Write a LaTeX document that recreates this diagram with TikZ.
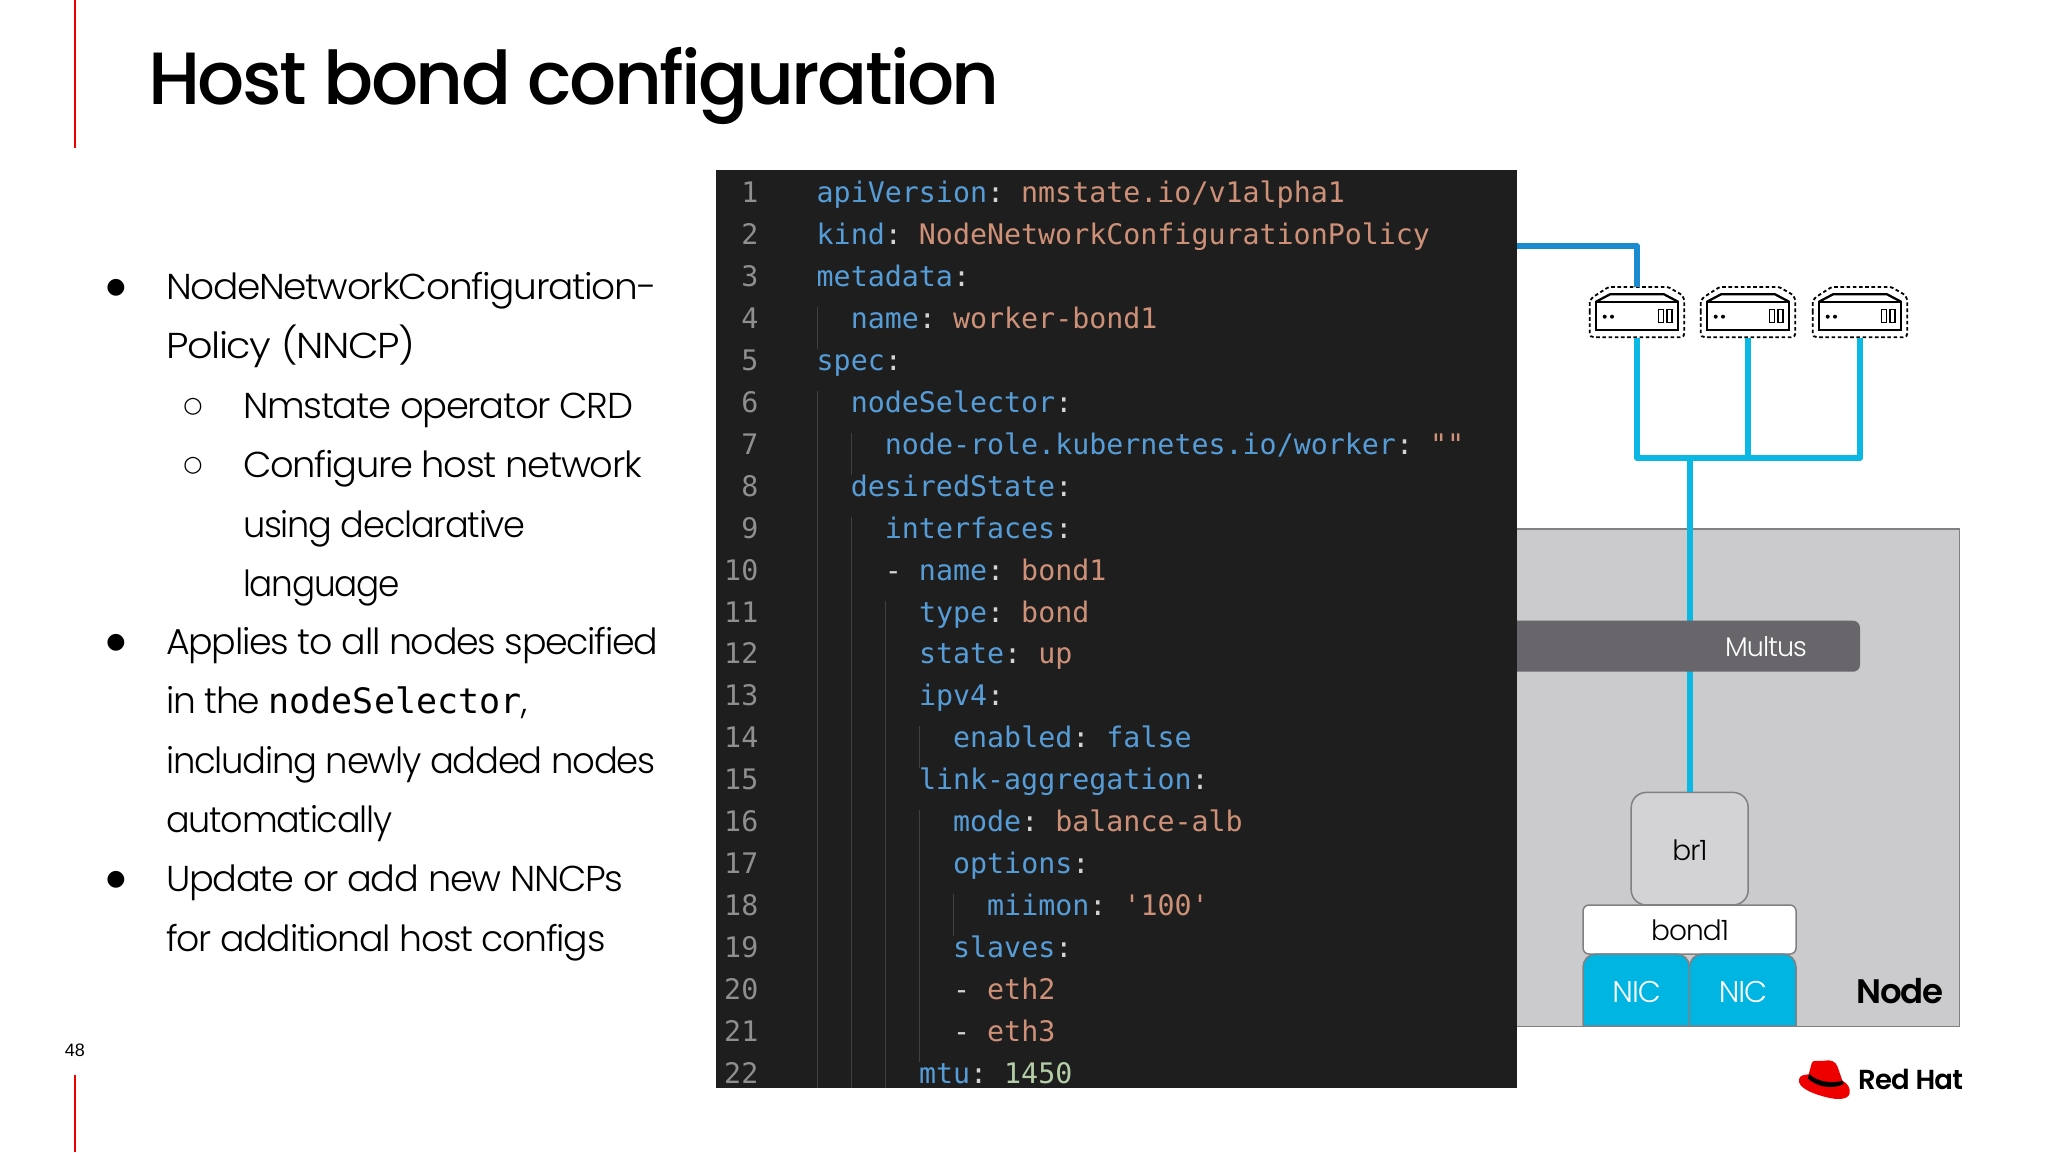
\documentclass[tikz,border=0pt]{standalone}
\usepackage{graphicx}
\usepackage{fontspec}
\setmainfont{Lato}
\newfontfamily\titlefont[LetterSpace=-3.5,Ligatures=NoCommon]{Poppins Medium}
\newfontfamily\bodyfont[LetterSpace=-3.5,Ligatures=NoCommon]{Poppins Light}
\newfontfamily\boldfont[LetterSpace=-3,Ligatures=NoCommon]{Poppins SemiBold}
\newfontfamily\codefont{DejaVu Sans Mono}
\newfontfamily\arialfont{Liberation Sans}
\newfontfamily\dvfont{DejaVu Sans}
\definecolor{rhred}{HTML}{EE0000}
\definecolor{panel}{HTML}{1E1E1F}
\definecolor{keyc}{HTML}{569CD6}
\definecolor{strc}{HTML}{CE9178}
\definecolor{numc}{HTML}{B5CEA8}
\definecolor{punc}{HTML}{D4D4D4}
\definecolor{lnc}{HTML}{8F8F8F}
\definecolor{guide}{HTML}{404040}
\definecolor{nodebg}{HTML}{CBCACD}
\definecolor{nodeln}{HTML}{808083}
\definecolor{brbg}{HTML}{D3D3D5}
\definecolor{cyanln}{HTML}{0BB7E3}
\definecolor{cyannic}{HTML}{00B5E2}
\definecolor{upln}{HTML}{1A8BCF}
\definecolor{multus}{HTML}{68666A}
\newcommand{\ky}[1]{\textcolor{keyc}{#1}}
\newcommand{\st}[1]{\textcolor{strc}{#1}}
\newcommand{\nm}[1]{\textcolor{numc}{#1}}
\newcommand{\pn}[1]{\textcolor{punc}{#1}}
\newcommand{\cl}[3]{%
  \node[lnum] (n#1) at (758.5,{202.5+(#1-1)*41.95}) {#1};
  \node[codetext] (c#1) at ({816.5+#2*17.05},{202.5+(#1-1)*41.95}) {#3};}
\newcommand{\bl}[5]{\node[bodytext] (#1) at (#2,#3) {\scalebox{#4}[1]{#5}};}
\newcommand{\gd}[3]{\draw[guideln] (#1,{181+(#2-1)*41.95}) -- (#1,{min(1088,181+#3*41.95)});}
\newcommand{\server}[2]{%
  \node[srvbox] (#1) at (#2,312) {};
  \begin{scope}[shift={(#2,0)}]
    \draw[srvdash] (-47.3,312) -- (-47.3,301) -- (-44,297) -- (-30,288) -- (-27,287) -- (30,287) -- (33,288) -- (45,295) -- (47.3,300) -- (47.3,332) .. controls (47.3,336) and (46,337.3) .. (43,337.3) -- (-43,337.3) .. controls (-46,337.3) and (-47.3,336) .. (-47.3,332) -- cycle;
    \draw[srvln] (-41,301.7) rectangle (41,330);
    \draw[srvln] (-41,301.7) -- (-27,294.3) -- (27,294.3) -- (41,301.7);
    \fill (-32.3,316.7) circle (2);
    \fill (-25,316.7) circle (2);
    \draw[srvthin] (21.7,309.3) rectangle (26.7,322.7);
    \draw[srvthin] (30,309.3) rectangle (35,322.7);
  \end{scope}}
\tikzset{
  x=1pt,y=-1pt,
  lnum/.style={anchor=base east,inner sep=0pt,text=lnc,font=\codefont\frenchspacing\fontsize{28.3}{34}\selectfont},
  codetext/.style={anchor=base west,inner sep=0pt,font=\codefont\frenchspacing\fontsize{28.3}{34}\selectfont},
  bodytext/.style={anchor=base west,inner sep=0pt,text=black,font=\bodyfont\fontsize{36}{46}\selectfont},
  bulleta/.style={anchor=center,inner sep=0pt,text=black,font=\dvfont\fontsize{22}{26}\selectfont},
  guideln/.style={draw=guide,line width=1.3pt},
  redrule/.style={draw=rhred,line width=2pt},
  srvbox/.style={minimum width=94.6pt,minimum height=50.6pt,inner sep=0pt},
  srvln/.style={draw=black,line width=2.3pt},
  srvthin/.style={draw=black,line width=1.5pt},
  srvdash/.style={draw=black,line width=1.8pt,dash pattern=on 3.6pt off 2.6pt},
  cyanwire/.style={draw=cyanln,line width=5.2pt,line join=round},
  upwire/.style={draw=upln,line width=5.2pt,line join=round},
  boxlabel/.style={font=\bodyfont\fontsize{28}{34}\selectfont,text=black,inner sep=0pt},
  niclabel/.style={font=\bodyfont\fontsize{30}{34}\selectfont,text=white,inner sep=0pt},
  nodeframe/.style={draw=nodeln,fill=nodebg,line width=1.5pt},
  partframe/.style={draw=nodeln,line width=1.5pt},
}
\begin{document}
\begin{tikzpicture}
\useasboundingbox (0,0) rectangle (2048,1152);
\fill[white] (0,0) rectangle (2048,1152);
% page furniture
\coordinate (rt0) at (75,0);\coordinate (rt1) at (75,148);
\coordinate (rb0) at (75,1075);\coordinate (rb1) at (75,1152);
\draw[redrule] (rt0) -- (rt1);
\draw[redrule] (rb0) -- (rb1);
\node[inner sep=0pt,font=\arialfont\fontsize{18}{22}\selectfont] (pageno) at (75,1050) {48};
\node[anchor=base west,inner sep=0pt,font=\titlefont\fontsize{74}{84}\selectfont] (title) at (148,104) {Host bond configuration};
% bullets
\node[bulleta] (b1) at (116,288) {●};
\bl{t1}{166}{299.5}{1.042}{NodeNetworkConfiguration-}
\bl{t2}{166}{358.5}{1.105}{Policy (NNCP)}
\node[bulleta] (b2) at (193,407) {○};
\bl{t3}{243}{418.5}{1.024}{Nmstate operator CRD}
\node[bulleta] (b3) at (193,466) {○};
\bl{t4}{243}{477.5}{1.023}{Configure host network}
\bl{t5}{243}{537.5}{0.977}{using declarative}
\bl{t6}{243}{596.5}{0.952}{language}
\node[bulleta] (b4) at (116,643) {●};
\bl{t7}{166}{654.5}{1.011}{Applies to all nodes specified}
\bl{t8}{166}{713.5}{1}{in the {\codefont\fontsize{35}{40}\selectfont nodeSelector},}
\bl{t9}{166}{773.5}{0.984}{including newly added nodes}
\bl{t10}{166}{832.5}{0.972}{automatically}
\node[bulleta] (b5) at (116,880) {●};
\bl{t11}{166}{891.5}{1.02}{Update or add new NNCPs}
\bl{t12}{166}{951.5}{1.006}{for additional host configs}
% node box
\node[nodeframe,minimum width=520.5pt,minimum height=497.3pt,inner sep=0pt,anchor=north west] (nodebox) at (1438,528.2) {};
% wires
\coordinate (jun) at (1690,458);
\coordinate (junA) at (1637,458);
\coordinate (junB) at (1748,458);
\coordinate (junC) at (1860,458);
\server{srvA}{1637}
\server{srvB}{1748}
\server{srvC}{1860}
\draw[cyanwire] (srvA.south) -- (junA) -- (junC) -- (srvC.south);
\draw[cyanwire] (srvB.south) -- (junB);
\node[draw=nodeln,fill=brbg,line width=1.5pt,rounded corners=15pt,minimum width=117pt,minimum height=112.5pt,inner sep=0pt] (br) at (1689.7,848.7) {};
\draw[cyanwire] (jun) -- (jun|-br.north);
% multus bar
\coordinate (mleft) at (1500,620.7);
\fill[multus,rounded corners=7pt] (mleft) rectangle (1860,671.7);
\node[boxlabel,text=white,font=\bodyfont\fontsize{27}{32}\selectfont] (multuslbl) at (1766,647) {Multus};
% stack
\node[boxlabel] (brlbl) at (1690,850.7) {br1};
\node[draw=nodeln,fill=white,line width=1.5pt,rounded corners=6pt,minimum width=213pt,minimum height=49pt,inner sep=0pt] (bond) at (1689.5,929.5) {};
\node[boxlabel] (bondlbl) at (1690,930.7) {bond1};
\filldraw[partframe,fill=cyannic] (1583,1026) [rounded corners=13pt] -- (1583,954) -- (1689.5,954) [sharp corners] -- (1689.5,1026) -- cycle;
\filldraw[partframe,fill=cyannic] (1689.5,1026) [rounded corners=13pt] -- (1689.5,954) -- (1796,954) [sharp corners] -- (1796,1026) -- cycle;
\node[niclabel] (nic1) at (1636.7,991.7) {NIC};
\node[niclabel] (nic2) at (1743,991.7) {NIC};
\node[inner sep=0pt,font=\boldfont\fontsize{34}{38}\selectfont] (nodelbl) at (1900,991) {Node};
% code panel
\node[fill=panel,minimum width=801pt,minimum height=918pt,inner sep=0pt,anchor=north west] (code) at (716,170) {};
\coordinate (upstart) at (1517,246);
\draw[upwire] (upstart) -| (srvA.north);
\gd{817.5}{4}{4}
\gd{817.5}{6}{23}
\gd{851.5}{7}{7}
\gd{851.5}{9}{23}
\gd{885.5}{11}{23}
\gd{919.5}{14}{14}
\gd{919.5}{16}{21}
\gd{953.5}{18}{18}
\cl{1}{0}{\ky{apiVersion}\pn{:} \st{nmstate.io/v1alpha1}}
\cl{2}{0}{\ky{kind}\pn{:} \st{NodeNetworkConfigurationPolicy}}
\cl{3}{0}{\ky{metadata}\pn{:}}
\cl{4}{2}{\ky{name}\pn{:} \st{worker-bond1}}
\cl{5}{0}{\ky{spec}\pn{:}}
\cl{6}{2}{\ky{nodeSelector}\pn{:}}
\cl{7}{4}{\ky{node-role.kubernetes.io/worker}\pn{:} \st{""}}
\cl{8}{2}{\ky{desiredState}\pn{:}}
\cl{9}{4}{\ky{interfaces}\pn{:}}
\cl{10}{4}{\pn{-} \ky{name}\pn{:} \st{bond1}}
\cl{11}{6}{\ky{type}\pn{:} \st{bond}}
\cl{12}{6}{\ky{state}\pn{:} \st{up}}
\cl{13}{6}{\ky{ipv4}\pn{:}}
\cl{14}{8}{\ky{enabled}\pn{:} \ky{false}}
\cl{15}{6}{\ky{link-aggregation}\pn{:}}
\cl{16}{8}{\ky{mode}\pn{:} \st{balance-alb}}
\cl{17}{8}{\ky{options}\pn{:}}
\cl{18}{10}{\ky{miimon}\pn{:} \st{'100'}}
\cl{19}{8}{\ky{slaves}\pn{:}}
\cl{20}{8}{\pn{-} \st{eth2}}
\cl{21}{8}{\pn{-} \st{eth3}}
\cl{22}{6}{\ky{mtu}\pn{:} \nm{1450}}
% logo
\begin{scope}[shift={(1502.3,760)},x=0.347pt,y=-0.3333pt]
\fill[rhred] (855,958) .. controls (858,945) and (870,945) .. (883,943) -- (892,908) .. controls (896,898) and (915,905) .. (930,902) .. controls (945,898) and (962,905) .. (966,920) -- (980,962) .. controls (995,970) and (1004,985) .. (1001,1000) .. controls (997,1020) and (965,1020) .. (935,1012) .. controls (900,1003) and (850,985) .. (855,958) -- cycle;
\fill[black] (885,942) .. controls (905,965) and (950,972) .. (980,962) -- (984,972) .. controls (950,990) and (905,980) .. (880,955) -- cycle;
\end{scope}
\node[anchor=west,inner sep=0pt,font=\boldfont\fontsize{27.5}{32}\selectfont] (rhtext) at (1858,1079) {Red Hat};
\end{tikzpicture}
\end{document}
